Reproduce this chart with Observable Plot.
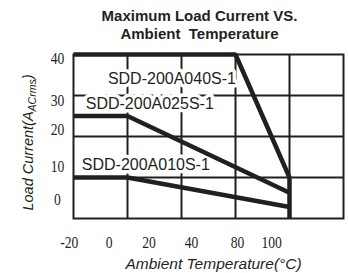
<!DOCTYPE html>
<html>
<head>
<meta charset="utf-8">
<script src="https://cdn.jsdelivr.net/npm/d3@7"></script>
<script src="https://cdn.jsdelivr.net/npm/@observablehq/plot@0.6"></script>
<style>
  html, body { margin: 0; padding: 0; background: #fff; }
  svg text { white-space: pre; }
  svg .serif text { font-family: "Liberation Serif", "Times New Roman", serif; }
</style>
</head>
<body>
<div id="chart"></div>
<script>
// ---- data ----
const titleLines = ["Maximum Load Current VS.", "Ambient  Temperature"];
const xTitle = "Ambient Temperature(\u00B0C)";
const yTitle = "Load Current(AACrms)";

// model names
const seriesNames = ["SDD-200A040S-1", "SDD-200A025S-1", "SDD-200A010S-1"];
// derating curves: temperature (°C) and current (A)
const temp040 = [-20, 70, 100, 100];
const amps040 = [40, 40, 10, 0];
const temp025 = [-20, 10, 100];
const amps025 = [25, 25, 6.3];
const temp010 = [-20, 10, 100];
const amps010 = [10, 10, 2.8];

// label anchor points (start of each model name)
const labelTemp = [-0.9, -13.2, -15.4];
const labelAmps = [34.1, 28.0, 13.1];

// grid lines
const gridTemps = [10, 40, 70, 100];
const gridAmps = [10, 20, 30];

// tick labels as printed, with their positions on the chart
const xTickLabels = ["-20", "0", "20", "40", "80", "100"];
const xTickAt = [-22.3, -0.2, 22, 45.6, 71.1, 90.1];
const yTickLabels = ["40", "30", "20", "10", "0"];
const yTickAt = [39.0, 28.8, 21.6, 12.6, 4.6];

// ---- build table ----
const curves = [
  ...temp040.map((t, i) => ({series: seriesNames[0], t, a: amps040[i]})),
  ...temp025.map((t, i) => ({series: seriesNames[1], t, a: amps025[i]})),
  ...temp010.map((t, i) => ({series: seriesNames[2], t, a: amps010[i]}))
];
const labels = seriesNames.map((name, i) => ({name, t: labelTemp[i], a: labelAmps[i]}));
const ink = "#231f20";
const sans = "'Liberation Sans', Arial, sans-serif";
const serif = "'Liberation Serif', 'Times New Roman', serif";

const chart = Plot.plot({
  width: 348,
  height: 273,
  marginLeft: 73,
  marginRight: 5,
  marginTop: 54,
  marginBottom: 55,
  style: {background: "#fff", overflow: "visible"},
  x: {domain: [-20, 130], axis: null},
  y: {domain: [0, 40], axis: null},
  marks: [
    Plot.ruleX(gridTemps, {stroke: ink, strokeWidth: 2}),
    Plot.ruleY(gridAmps, {stroke: ink, strokeWidth: 2}),
    Plot.text(labels, {
      x: "t", y: "a", text: "name", textAnchor: "start",
      fontFamily: sans, fontSize: 16,
      fill: ink, stroke: "white", strokeWidth: 7, paintOrder: "stroke"
    }),
    Plot.frame({stroke: ink, strokeWidth: 2}),
    Plot.line(curves, {
      x: "t", y: "a", z: "series", stroke: ink, strokeWidth: 4.5,
      strokeLinejoin: "miter", strokeLinecap: "butt"
    }),
    // y tick labels
    Plot.text(yTickAt, {
      y: d => d, text: (d, i) => yTickLabels[i], frameAnchor: "left", lineAnchor: "middle",
      dx: -16, textAnchor: "middle", fontFamily: serif, className: "serif",
      fontSize: 17, fill: ink
    }),
    // x tick labels
    Plot.text(xTickAt, {
      x: d => d, text: (d, i) => xTickLabels[i], frameAnchor: "bottom", lineAnchor: "middle",
      dy: 24.5, textAnchor: "middle", fontFamily: serif, className: "serif",
      fontSize: 17, fill: ink
    }),
    // axis titles
    Plot.text([xTitle], {
      text: d => d, frameAnchor: "bottom", lineAnchor: "middle", dx: 5, dy: 46,
      fontFamily: sans, fontSize: 15.5,
      fontStyle: "italic", fill: ink
    }),
    Plot.text([yTitle], {
      text: d => d, frameAnchor: "left", lineAnchor: "middle", textAnchor: "middle",
      dx: -45, dy: 6, rotate: -90,
      fontFamily: sans, fontSize: 14.5,
      fontStyle: "italic", fill: ink, className: "ylabel"
    }),
    // title
    Plot.text([titleLines[0]], {
      text: d => d, frameAnchor: "top", lineAnchor: "middle", dx: -9, dy: -38,
      fontFamily: sans, fontSize: 15,
      fontWeight: "bold", fill: ink
    }),
    Plot.text([titleLines[1]], {
      text: d => d, frameAnchor: "top", lineAnchor: "middle", dx: -9, dy: -20,
      fontFamily: sans, fontSize: 15,
      fontWeight: "bold", fill: ink
    })
  ]
});
document.getElementById("chart").appendChild(chart);

// narrow the serif tick digits like the printed original
chart.querySelectorAll(".serif text").forEach(t => {
  const prev = t.getAttribute("transform") || "";
  const bb = t.getBBox();
  const cx = bb.x + bb.width / 2;
  t.setAttribute("transform", `${prev} translate(${cx},0) scale(0.8,1) translate(${-cx},0)`);
});

// render the "ACrms" part of the y title as a subscript
const yl = chart.querySelector(".ylabel text");
if (yl) {
  yl.textContent = "";
  const ns = "http://www.w3.org/2000/svg";
  const parts = [["Load Current(A", null, null], ["ACrms", "10.5px", "3"], [")", null, "-3"]];
  for (const [txt, fs, dy] of parts) {
    const ts = document.createElementNS(ns, "tspan");
    ts.textContent = txt;
    if (fs) ts.setAttribute("font-size", fs);
    if (dy) ts.setAttribute("dy", dy);
    yl.appendChild(ts);
  }
}
</script>
</body>
</html>
